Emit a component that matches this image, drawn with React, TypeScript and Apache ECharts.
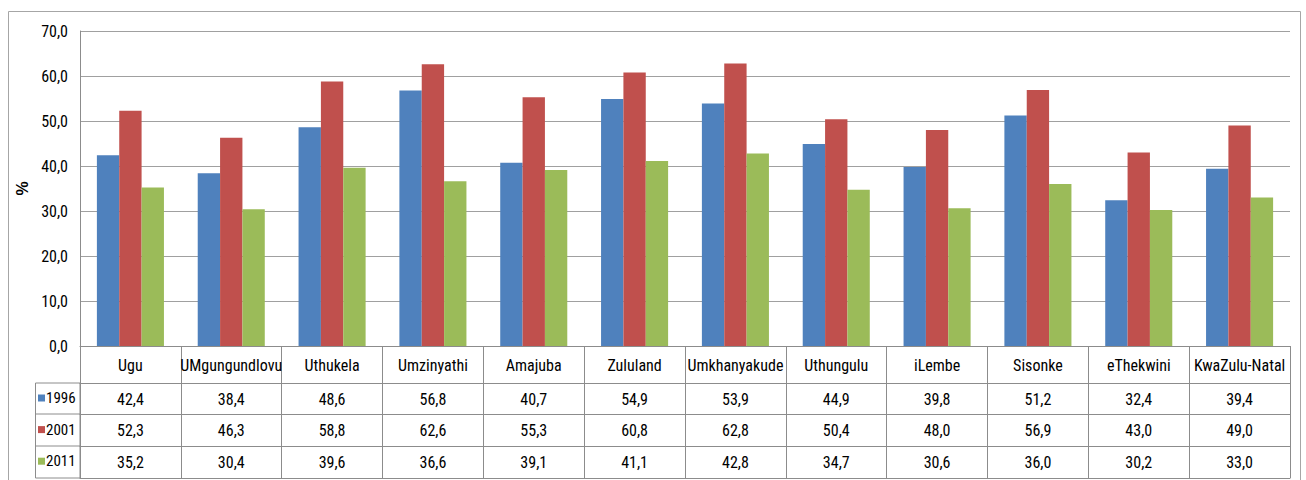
import React, { useEffect, useRef } from "react";
import * as echarts from "echarts";

const categories = ["Ugu", "UMgungundlovu", "Uthukela", "Umzinyathi", "Amajuba", "Zululand", "Umkhanyakude", "Uthungulu", "iLembe", "Sisonke", "eThekwini", "KwaZulu-Natal"];
const years = ["1996", "2001", "2011"];
const v1996 = [42.4, 38.4, 48.6, 56.8, 40.7, 54.9, 53.9, 44.9, 39.8, 51.2, 32.4, 39.4];
const v2001 = [52.3, 46.3, 58.8, 62.6, 55.3, 60.8, 62.8, 50.4, 48.0, 56.9, 43.0, 49.0];
const v2011 = [35.2, 30.4, 39.6, 36.6, 39.1, 41.1, 42.8, 34.7, 30.6, 36.0, 30.2, 33.0];
const colors = ["#4F81BD", "#C0504D", "#9BBB59"];
const yTicks = { min: 0, max: 70, interval: 10 };

const FONT = "'Roboto Condensed', 'DejaVu Sans Condensed', sans-serif";
const fmt = (v: number) => v.toFixed(1).replace(".", ",");

export default function App() {
  const ref = useRef<HTMLDivElement>(null);
  useEffect(() => {
    if (!ref.current) return;
    const chart = echarts.init(ref.current, null, { renderer: "svg" });
    const gridBottomY = 346;
    const rows = [v1996, v2001, v2011];
    const rowOffsets = [37, 68, 100];
    const lineColor = "#8c8c8c";
    const xAxes: any[] = [
      {
        type: "category",
        data: categories,
        position: "bottom",
        gridIndex: 0,
        axisLine: { show: true, lineStyle: { color: lineColor, width: 1 } },
        axisTick: { show: true, length: 132, interval: 0, lineStyle: { color: lineColor } },
        axisLabel: { interval: 0, fontSize: 16, fontFamily: FONT, color: "#000", margin: 19, verticalAlign: "middle" },
      },
    ];
    rows.forEach((r, i) => {
      xAxes.push({
        type: "category",
        data: categories,
        position: "bottom",
        offset: rowOffsets[i],
        gridIndex: 0,
        axisLine: { show: true, lineStyle: { color: lineColor, width: 1 } },
        axisTick: { show: false },
        axisLabel: {
          interval: 0,
          fontSize: 16,
          fontFamily: FONT,
          color: "#000",
          margin: 16,
          verticalAlign: "middle",
          formatter: (_v: string, idx: number) => fmt(r[idx]),
        },
      });
    });
    xAxes.push({
      type: "category",
      data: categories,
      position: "bottom",
      offset: 132,
      gridIndex: 0,
      axisLine: { show: true, lineStyle: { color: lineColor, width: 1 } },
      axisTick: { show: false },
      axisLabel: { show: false },
    });

    const option: any = {
      animation: false,
      backgroundColor: "#fff",
      color: colors,
      textStyle: { fontFamily: FONT },
      grid: { left: 80, right: 16, top: 31, bottom: 480 - gridBottomY, containLabel: false },
      legend: {
        orient: "vertical",
        left: 38,
        top: 390,
        padding: 0,
        itemWidth: 7,
        itemHeight: 7,
        itemGap: 15.6,
        icon: "rect",
        selectedMode: false,
        data: years,
        textStyle: { fontSize: 15, fontFamily: FONT, color: "#000", lineHeight: 16, padding: [0, 0, 0, -4] },
      },
      xAxis: xAxes,
      yAxis: {
        type: "value",
        min: yTicks.min,
        max: yTicks.max,
        interval: yTicks.interval,
        name: "%",
        nameLocation: "middle",
        nameRotate: 90,
        nameGap: 43,
        nameTextStyle: { fontSize: 16, fontWeight: "bold", color: "#000", fontFamily: "'Liberation Sans', sans-serif" },
        axisLine: { show: true, lineStyle: { color: lineColor } },
        axisTick: { show: false },
        axisLabel: { fontSize: 16, fontFamily: FONT, color: "#000", margin: 12, formatter: (v: number) => fmt(v) },
        splitLine: { show: true, lineStyle: { color: "#a0a0a0", width: 1 } },
      },
      series: [v1996, v2001, v2011].map((d, i) => ({
        name: years[i],
        type: "bar",
        data: d,
        xAxisIndex: 0,
        barGap: "0%",
        barCategoryGap: "33.5%",
        itemStyle: { color: colors[i] },
      })),
      graphic: [
        {
          type: "rect",
          silent: true,
          shape: { x: 8.5, y: 11.5, width: 1292, height: 480 },
          style: { fill: "none", stroke: "#a6a6a6", lineWidth: 1 },
          z: -1,
        },
        {
          type: "rect",
          silent: true,
          shape: { x: 35.5, y: 383, width: 44.5, height: 95 },
          style: { fill: "none", stroke: lineColor, lineWidth: 1 },
        },
        {
          type: "line",
          silent: true,
          shape: { x1: 35.5, y1: 414, x2: 80, y2: 414 },
          style: { stroke: lineColor, lineWidth: 1 },
        },
        {
          type: "line",
          silent: true,
          shape: { x1: 35.5, y1: 446, x2: 80, y2: 446 },
          style: { stroke: lineColor, lineWidth: 1 },
        },
      ],
    };
    chart.setOption(option);
    return () => chart.dispose();
  }, []);
  return <div ref={ref} style={{ width: 1306, height: 480, position: "absolute", left: 0, top: 0 }} />;
}
